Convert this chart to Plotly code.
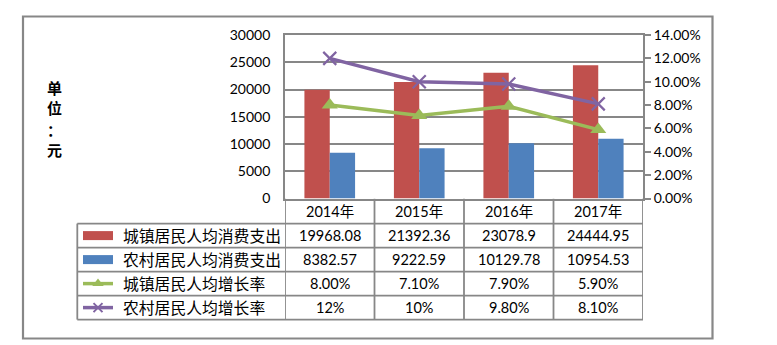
import plotly.graph_objects as go

# ---------------- data ----------------
years = ["2014年", "2015年", "2016年", "2017年"]
series_names = ["城镇居民人均消费支出", "农村居民人均消费支出", "城镇居民人均增长率", "农村居民人均增长率"]
urban_exp = [19968.08, 21392.36, 23078.9, 24444.95]
rural_exp = [8382.57, 9222.59, 10129.78, 10954.53]
urban_rate = [0.080, 0.071, 0.079, 0.059]
rural_rate = [0.12, 0.10, 0.098, 0.081]
urban_rate_text = ["8.00%", "7.10%", "7.90%", "5.90%"]
rural_rate_text = ["12%", "10%", "9.80%", "8.10%"]
left_ticks = [0, 5000, 10000, 15000, 20000, 25000, 30000]
right_ticks = [0, 0.02, 0.04, 0.06, 0.08, 0.10, 0.12, 0.14]

# ---------------- style ----------------
W, H = 777, 345
RED, BLUE, GREEN, PURPLE = "#C0504D", "#4F81BD", "#9BBB59", "#8064A2"
GRAY = "#878787"
NUM_FONT = "Lato, 'Noto Sans CJK SC', sans-serif"
CJK_FONT = "'Noto Sans CJK SC', sans-serif"

def px(x):
    return x / W

def py(y):
    return 1 - y / H

plot_left, plot_right, plot_top, plot_bottom = 285, 643, 35, 198.5
row_lines = [198.8, 223.6, 247.6, 271.6, 295.6, 319.6]
table_left = 77.3

fig = go.Figure()

fig.add_trace(go.Bar(x=years, y=urban_exp, name=series_names[0], marker_color=RED,
                     marker_line_width=0, showlegend=False))
fig.add_trace(go.Bar(x=years, y=rural_exp, name=series_names[1], marker_color=BLUE,
                     marker_line_width=0, showlegend=False))
fig.add_trace(go.Scatter(x=years, y=urban_rate, name=series_names[2], yaxis="y2",
                         mode="lines+markers", line=dict(color=GREEN, width=3.5),
                         marker=dict(symbol="triangle-up", size=14, color=GREEN),
                         showlegend=False))
fig.add_trace(go.Scatter(x=years, y=rural_rate, name=series_names[3], yaxis="y2",
                         mode="lines+markers", line=dict(color=PURPLE, width=3.5),
                         marker=dict(symbol="x-thin", size=13, line=dict(color=PURPLE, width=2.2)),
                         showlegend=False))

# legend keys in table (pixel-coordinate helper axes)
key_x0, key_x1 = 83, 113
row_centers = [(row_lines[i] + row_lines[i + 1]) / 2 for i in range(1, 5)]
fig.add_trace(go.Scatter(x=[key_x0, key_x1], y=[row_centers[2]] * 2, xaxis="x3", yaxis="y3",
                         mode="lines", line=dict(color=GREEN, width=3.5), showlegend=False,
                         hoverinfo="skip"))
fig.add_trace(go.Scatter(x=[(key_x0 + key_x1) / 2], y=[row_centers[2]], xaxis="x3", yaxis="y3",
                         mode="markers", marker=dict(symbol="triangle-up", size=10, color=GREEN),
                         showlegend=False, hoverinfo="skip"))
fig.add_trace(go.Scatter(x=[key_x0, key_x1], y=[row_centers[3]] * 2, xaxis="x3", yaxis="y3",
                         mode="lines", line=dict(color=PURPLE, width=3.5), showlegend=False,
                         hoverinfo="skip"))
fig.add_trace(go.Scatter(x=[(key_x0 + key_x1) / 2], y=[row_centers[3]], xaxis="x3", yaxis="y3",
                         mode="markers", marker=dict(symbol="x-thin", size=9, line=dict(color=PURPLE, width=2)),
                         showlegend=False, hoverinfo="skip"))

shapes = []
# outer chart border
shapes.append(dict(type="rect", xref="paper", yref="paper", x0=px(23), x1=px(712.5),
                   y0=py(338.5), y1=py(16.5), line=dict(color=GRAY, width=2.2)))
# table horizontal lines
for i, yl in enumerate(row_lines):
    if i == 0:
        continue
    shapes.append(dict(type="line", xref="paper", yref="paper",
                       x0=px(table_left), x1=px(plot_right), y0=py(yl), y1=py(yl),
                       line=dict(color=GRAY, width=1.8)))
# table vertical lines
shapes.append(dict(type="line", xref="paper", yref="paper", x0=px(table_left), x1=px(table_left),
                   y0=py(row_lines[1]), y1=py(row_lines[-1]), line=dict(color=GRAY, width=1.8)))
for k in range(len(years) + 1):
    shapes.append(dict(type="line", xref="x", yref="paper", x0=k - 0.5, x1=k - 0.5,
                       y0=py(row_lines[0]), y1=py(row_lines[-1]), line=dict(color=GRAY, width=1.8)))
# legend key rectangles for bar series
for r, col in zip(row_centers[:2], [RED, BLUE]):
    shapes.append(dict(type="rect", xref="paper", yref="paper", x0=px(key_x0), x1=px(key_x1),
                       y0=py(r + 4.5), y1=py(r - 4.5), fillcolor=col, line=dict(width=0)))

annotations = []
# vertical unit label
for ch, yc in zip(["单", "位", "：", "元"], [88, 108, 129, 150]):
    annotations.append(dict(text=ch, xref="paper", yref="paper", x=px(54), y=py(yc),
                            showarrow=False, xanchor="center", yanchor="middle",
                            font=dict(family=CJK_FONT, size=15, color="#000", weight="bold")))
# header row
header_c = (row_lines[0] + row_lines[1]) / 2
for yr in years:
    annotations.append(dict(text=yr, xref="x", yref="paper", x=yr, y=py(header_c),
                            showarrow=False, xanchor="center", yanchor="middle",
                            font=dict(family=NUM_FONT, size=14.5, color="#000")))
# row names
for name, rc in zip(series_names, row_centers):
    annotations.append(dict(text=name, xref="paper", yref="paper", x=px(120.5), y=py(rc),
                            showarrow=False, xanchor="left", yanchor="middle",
                            font=dict(family=CJK_FONT, size=15.8, color="#000")))
# values
rows_text = [[str(v) for v in urban_exp], [str(v) for v in rural_exp], urban_rate_text, rural_rate_text]
for texts, rc in zip(rows_text, row_centers):
    for yr, t in zip(years, texts):
        annotations.append(dict(text=t, xref="x", yref="paper", x=yr, y=py(rc),
                                showarrow=False, xanchor="center", yanchor="middle",
                                font=dict(family=NUM_FONT, size=14.5, color="#000")))

fig.update_layout(
    width=W, height=H, margin=dict(l=0, r=0, t=0, b=0, pad=0, autoexpand=False),
    paper_bgcolor="white", plot_bgcolor="rgba(0,0,0,0)",
    barmode="group", bargap=0.434, bargroupgap=0,
    xaxis=dict(domain=[px(plot_left), px(plot_right)], range=[-0.5, 3.5], type="category",
               showticklabels=False, ticks="", showgrid=False, zeroline=False, automargin=False,
               showline=True, linecolor=GRAY, linewidth=1.8, mirror=True),
    yaxis=dict(domain=[py(plot_bottom), py(plot_top)], range=[0, 30000], tickvals=left_ticks,
               ticktext=[str(v) for v in left_ticks], showgrid=True, gridcolor=GRAY, gridwidth=1.8,
               zeroline=False, showline=True, linecolor=GRAY, linewidth=1.8, ticks="",
               automargin=False,
               ticklabelstandoff=10, tickfont=dict(family=NUM_FONT, size=14, color="#000")),
    yaxis2=dict(overlaying="y", side="right", range=[0, 0.14], tickvals=right_ticks,
                ticktext=[f"{v:.2%}" for v in right_ticks], showgrid=False, zeroline=False,
                showline=True, linecolor=GRAY, linewidth=1.8, ticks="outside", ticklen=6,
                tickcolor=GRAY, tickwidth=1.8, automargin=False,
                tickfont=dict(family=NUM_FONT, size=14, color="#000")),
    xaxis3=dict(domain=[0, 1], range=[0, W], visible=False, fixedrange=True, anchor="y3",
                automargin=False),
    yaxis3=dict(domain=[0, 1], range=[H, 0], visible=False, fixedrange=True, anchor="x3",
                automargin=False),
    shapes=shapes, annotations=annotations,
)

fig.write_html("out.html")
